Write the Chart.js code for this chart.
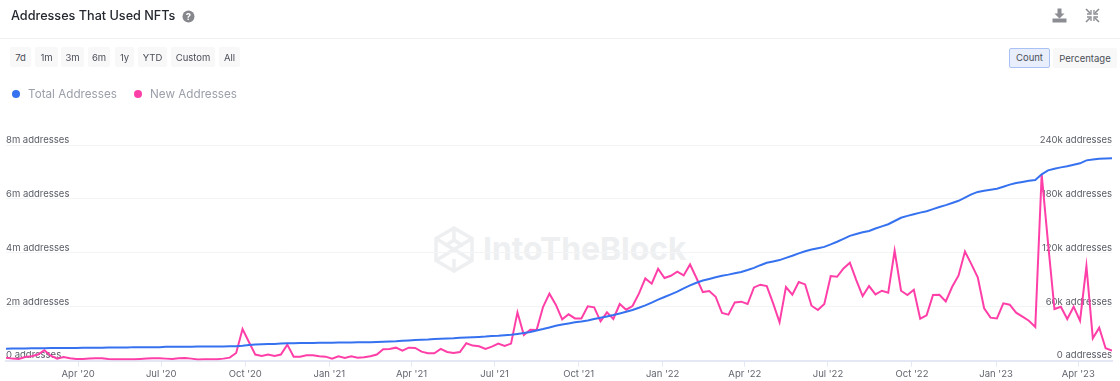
<!DOCTYPE html>
<html>
<head>
<meta charset="utf-8">
<title>Addresses That Used NFTs</title>
<script src="https://cdn.jsdelivr.net/npm/chart.js@4"></script>
<style>
  html,body{margin:0;padding:0;background:#fff;}
  body{width:1120px;height:381px;overflow:hidden;position:relative;font-family:Inter,sans-serif;}
  #chart{position:absolute;left:0;top:0;}
  .title{position:absolute;left:11px;top:7px;font-size:12.65px;font-weight:500;line-height:18px;color:#25282f;white-space:nowrap;}
  .rule{position:absolute;left:0;top:38px;width:1120px;height:1px;background:#f0f0f2;}
  .btn{position:absolute;top:47px;height:20px;line-height:22px;text-align:center;font-size:9.5px;color:#4b4e57;background:#f8f8f9;border-radius:2px;box-sizing:border-box;}
  .btn.on{top:48px;background:#e8eefb;border:1px solid #a9c2f3;line-height:18px;}
  .leg{position:absolute;top:86px;font-size:11.7px;line-height:17px;color:#9b9fa9;white-space:nowrap;}
  .dot{position:absolute;top:90px;width:8px;height:8px;border-radius:50%;}
  .mark{position:absolute;left:433px;top:225px;width:260px;height:48px;}
  .mark span{position:absolute;left:50px;top:3px;font-size:31.8px;line-height:42px;font-weight:700;color:#eeeff1;white-space:nowrap;}
  svg.icon{position:absolute;}
</style>
</head>
<body>
<div class="mark">
  <svg width="42" height="47" viewBox="0 0 42 47" style="position:absolute;left:0;top:1px" fill="none" stroke="#eeeff1" stroke-width="3.5">
    <path d="M21 2 L39 12.5 V34.5 L21 45 L3 34.5 V12.5 Z"/>
    <path d="M3 12.5 L39 34.5 M39 12.5 L3 34.5 M21 2 V14 M21 33 V45 M21 14 L30 20 M21 14 L12 20"/>
  </svg>
  <span>IntoTheBlock</span>
</div>
<canvas id="chart" width="1120" height="381"></canvas>

<div class="title">Addresses That Used NFTs</div>
<svg class="icon" style="left:182px;top:10px" width="13" height="13" viewBox="0 0 13 13">
  <circle cx="6.5" cy="6.5" r="6" fill="#85878d"/>
  <text x="6.5" y="10" text-anchor="middle" font-family="Inter" font-size="9.5" font-weight="700" fill="#fff">?</text>
</svg>
<svg class="icon" style="left:1052px;top:8px" width="15" height="15" viewBox="0 0 15 15" fill="#8b8d93">
  <path d="M5.5 0.5h4v5h3L7.5 10.5 2.5 5.5h3z"/><rect x="0.5" y="10.5" width="14" height="4"/>
</svg>
<svg class="icon" style="left:1085px;top:8px" width="15" height="15" viewBox="0 0 15 15" fill="none" stroke="#8b8d93" stroke-width="1.6">
  <path d="M1 1l4 4M14 1l-4 4M1 14l4-4M14 14l-4-4"/>
  <path d="M2 6h4V2M13 6H9V2M2 9h4v4M13 9H9v4" stroke-width="1.3"/>
</svg>
<div class="rule"></div>

<div class="btn" style="left:10px;width:21px">7d</div>
<div class="btn" style="left:35px;width:23px">1m</div>
<div class="btn" style="left:61px;width:23px">3m</div>
<div class="btn" style="left:88px;width:22px">6m</div>
<div class="btn" style="left:115px;width:19px">1y</div>
<div class="btn" style="left:138px;width:29px">YTD</div>
<div class="btn" style="left:171px;width:44px">Custom</div>
<div class="btn" style="left:219px;width:21px">All</div>
<div class="btn on" style="left:1009px;width:41px">Count</div>
<div class="btn" style="left:1053px;width:64px;top:48px">Percentage</div>

<div class="dot" style="left:12px;background:#3672ef"></div>
<div class="leg" style="left:28px">Total Addresses</div>
<div class="dot" style="left:134px;background:#ff3fa8"></div>
<div class="leg" style="left:150px">New Addresses</div>

<script>
// weekly readings, first one is Jan 13 2020
const firstWeek = Date.UTC(2020,0,13);
const weekMs = 7*24*3600*1000;

// millions, left axis
const totalAddresses = [
  .44,.45,.45,.45,.46,.46,.46,.47,.47,.47,
  .47,.47,.48,.48,.48,.48,.49,.49,.49,.49,
  .50,.50,.50,.50,.50,.51,.51,.51,.51,.51,
  .52,.52,.52,.52,.52,.53,.53,.55,.58,.60,
  .61,.62,.62,.63,.64,.64,.65,.65,.65,.66,
  .66,.66,.67,.67,.67,.68,.68,.68,.69,.70,
  .71,.72,.74,.75,.76,.77,.78,.80,.81,.82,
  .83,.85,.86,.87,.88,.89,.91,.92,.94,.96,
  .99,1.02,1.06,1.12,1.17,1.23,1.29,1.34,1.38,1.42,
  1.45,1.49,1.54,1.59,1.64,1.69,1.75,1.81,1.88,1.96,
  2.05,2.15,2.26,2.36,2.46,2.56,2.68,2.79,2.89,2.97,
  3.03,3.09,3.15,3.19,3.24,3.29,3.36,3.44,3.54,3.63,
  3.68,3.73,3.81,3.89,3.98,4.06,4.12,4.17,4.22,4.31,
  4.41,4.52,4.63,4.70,4.76,4.81,4.90,4.98,5.06,5.18,
  5.30,5.37,5.43,5.49,5.54,5.62,5.70,5.77,5.85,5.93,
  6.05,6.17,6.26,6.30,6.34,6.38,6.45,6.53,6.59,6.63,
  6.67,6.70,6.91,7.06,7.12,7.17,7.21,7.27,7.32,7.43,
  7.46,7.49,7.50,7.51
];

// thousands, right axis
const newAddresses = [
  3.3,2.2,1.9,4,4.8,6.7,11.5,5.5,2.2,4,
  2.6,1.9,1.9,2.2,2.6,2.6,1.9,1.5,1.5,1.5,
  1.5,1.9,2.2,2.6,2.6,2.2,1.9,2.6,3,2.2,
  1.1,1.5,1.5,1.5,2.2,3.3,8.5,35.2,20.7,6.7,
  5.2,6.7,5.2,6.7,17.8,4.4,4.4,5.9,5.9,4.8,
  4.4,2.2,4.8,3,4.8,3.3,3.7,4.8,6.7,12.6,
  13,14.4,11.1,14.4,14.1,10,8.1,8.1,13,9.6,
  8.5,9.6,19.3,16.7,15.9,13,15.6,18.9,16.3,18.9,
  53.7,28.5,34.4,34.1,59.6,74.5,62.2,45.9,51.5,47,
  47,60.4,59.3,43.7,53.7,46.3,63,56.7,60.7,74.5,
  91.5,85.6,102.2,91.9,94.4,98.9,94.8,107,91.9,76.3,
  77.4,71.1,53,51.1,64.8,65.6,63,81.5,84.5,83,
  63.7,42.6,81.9,73.3,87.4,84.8,61.1,56.3,63,94.1,
  93.3,102.6,108.9,89.6,71.9,83,73.7,77.8,75.6,122.2,
  77.8,73,78.9,46.7,50.4,73,73.3,65.9,82.2,94.8,
  121.5,107.4,92.6,58.2,47.8,47,63.7,62.2,53.3,48.9,
  44.4,37.4,207.4,130.4,57.4,60,46.3,60,44.4,105.2,
  24.8,36.7,13.7,11.1
];

const tickLabels = ["Apr '20","Jul '20","Oct '20","Jan '21","Apr '21","Jul '21","Oct '21","Jan '22","Apr '22","Jul '22","Oct '22","Jan '23","Apr '23"];
const tickDates = [
  Date.UTC(2020,3,1),Date.UTC(2020,6,1),Date.UTC(2020,9,1),Date.UTC(2021,0,1),
  Date.UTC(2021,3,1),Date.UTC(2021,6,1),Date.UTC(2021,9,1),Date.UTC(2022,0,1),
  Date.UTC(2022,3,1),Date.UTC(2022,6,1),Date.UTC(2022,9,1),Date.UTC(2023,0,1),Date.UTC(2023,3,1)
];

const toPoints = arr => arr.map((v,i)=>({x:firstWeek+i*weekMs,y:v}));
const axisFont = {family:"Inter",size:9.5};
const gridColor = "#f3f4f6";

new Chart(document.getElementById("chart"),{
  type:"line",
  data:{
    datasets:[
      {label:"Total Addresses",data:toPoints(totalAddresses),yAxisID:"left",borderColor:"#3672ef",borderWidth:2,pointRadius:0,tension:0},
      {label:"New Addresses",data:toPoints(newAddresses),yAxisID:"right",borderColor:"#ff3fa8",borderWidth:2,pointRadius:0,tension:0}
    ]
  },
  options:{
    responsive:false,
    animation:false,
    layout:{padding:{left:6,right:8,top:145,bottom:-1}},
    plugins:{legend:{display:false},tooltip:{enabled:false}},
    scales:{
      x:{
        type:"linear",
        min:firstWeek,
        max:firstWeek+(newAddresses.length-1)*weekMs,
        afterBuildTicks:axis=>{axis.ticks=tickDates.map(v=>({value:v}));},
        grid:{drawOnChartArea:false,color:"#e4e8f4",tickLength:6},
        border:{color:"#e4e8f4",width:2},
        ticks:{autoSkip:false,maxRotation:0,color:"#62656e",font:axisFont,padding:2,
          callback:(v,i)=>tickLabels[i]}
      },
      left:{
        position:"left",min:0,max:8,
        grid:{color:gridColor,tickLength:0},
        border:{display:false},
        ticks:{stepSize:2,mirror:true,padding:0,labelOffset:-5,color:"#5a5d66",font:axisFont,
          callback:v=>v===0?"0 addresses":v+"m addresses"}
      },
      right:{
        position:"right",min:0,max:240,
        grid:{drawOnChartArea:false,tickLength:0},
        border:{display:false},
        ticks:{stepSize:60,mirror:true,padding:0,labelOffset:-5,color:"#5a5d66",font:axisFont,
          callback:v=>v===0?"0 addresses":v+"k addresses"}
      }
    }
  }
});
</script>
</body>
</html>
